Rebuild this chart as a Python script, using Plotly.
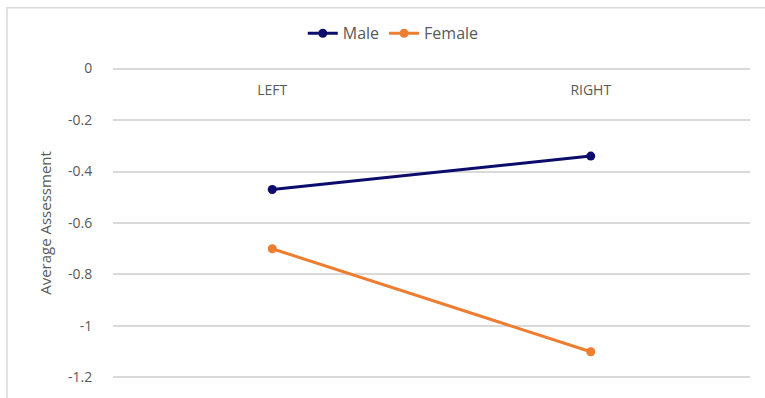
import plotly.graph_objects as go

# Average assessment by side and gender
sides = ["LEFT", "RIGHT"]
male = [-0.47, -0.34]
female = [-0.70, -1.10]
y_ticks = [0, -0.2, -0.4, -0.6, -0.8, -1, -1.2]
y_tick_labels = ["0", "-0.2", "-0.4", "-0.6", "-0.8", "-1", "-1.2"]

font_family = "Open Sans, Liberation Sans, sans-serif"
text_grey = "#595959"

fig = go.Figure()
fig.add_trace(go.Scatter(
    x=sides, y=male, name="Male", mode="lines+markers",
    line=dict(color="#0c0c6c", width=3),
    marker=dict(color="#0c0c6c", size=9),
))
fig.add_trace(go.Scatter(
    x=sides, y=female, name="Female", mode="lines+markers",
    line=dict(color="#ed7d31", width=3),
    marker=dict(color="#ed7d31", size=9),
))

# small padding so the gridlines at 0 and -1.2 are kept
pad = 0.006

fig.update_layout(
    width=765, height=398,
    margin=dict(l=113, r=15, t=67, b=13),
    paper_bgcolor="white", plot_bgcolor="white",
    font=dict(family=font_family, color=text_grey, size=13),
    showlegend=True,
    legend=dict(
        orientation="h", x=0.44, xanchor="center", y=1.108, yanchor="middle",
        font=dict(size=16, color=text_grey), itemwidth=30,
        bgcolor="rgba(0,0,0,0)",
    ),
    xaxis=dict(
        type="category", range=[-0.5, 1.5],
        anchor="free", position=1, side="bottom",
        showgrid=False, zeroline=False, showline=False,
        ticks="outside", ticklen=10, tickcolor="rgba(0,0,0,0)",
        tickfont=dict(size=14, color=text_grey),
    ),
    yaxis=dict(
        range=[-1.2 - pad, 0 + pad],
        tickvals=y_ticks, ticktext=y_tick_labels,
        showgrid=True, gridcolor="#d9d9d9", gridwidth=1.5,
        zeroline=False, showline=False,
        ticks="outside", ticklen=17, tickcolor="rgba(0,0,0,0)",
        tickfont=dict(size=14, color=text_grey),
        title=dict(text="Average Assessment", font=dict(size=15, color=text_grey), standoff=12),
    ),
    shapes=[dict(
        type="rect", xref="paper", yref="paper",
        x0=-0.1664, x1=1.2, y0=-0.3, y1=1.19,
        line=dict(color="#d9d9d9", width=1.5), fillcolor="rgba(0,0,0,0)", layer="below",
    )],
)

fig.write_html("out.html")
